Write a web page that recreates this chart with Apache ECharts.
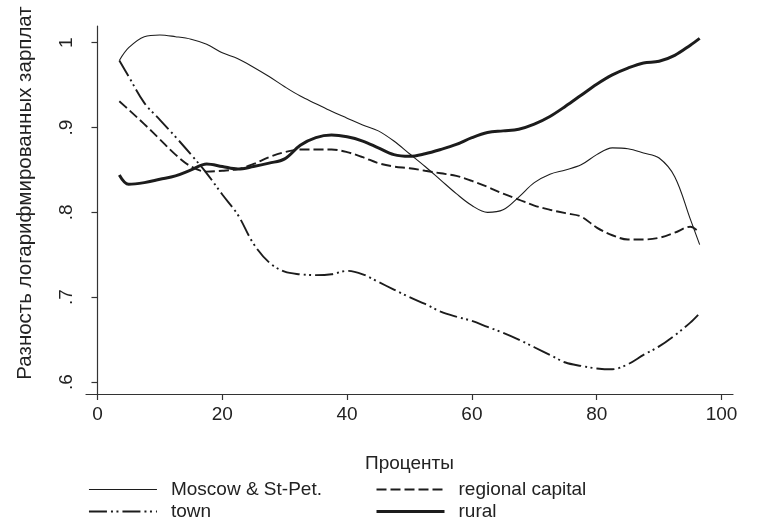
<!DOCTYPE html>
<html>
<head>
<meta charset="utf-8">
<script src="https://cdn.jsdelivr.net/npm/echarts@6/dist/echarts.min.js"></script>
<style>
  html, body { margin: 0; padding: 0; background: #fff; }
  #chart { width: 757px; height: 529px; }
</style>
</head>
<body>
<div id="chart"></div>
<script>
// Percentile grid shared by all four curves
var percentiles = [3.5, 5, 7.5, 10, 12.5, 15, 17.5, 20, 22.5, 25, 27.5, 30, 32.5, 35, 37.5, 40,
  42.5, 45, 47.5, 50, 52.5, 55, 57.5, 60, 62.5, 65, 67.5, 70, 72.5, 75, 77.5, 80,
  82.5, 85, 87.5, 90, 92.5, 95, 96.5];

// Log-wage differences by settlement type
var moscowSpb = [0.979, 0.994, 1.007, 1.009, 1.007, 1.004, 0.998, 0.988, 0.981, 0.971, 0.960, 0.948,
  0.937, 0.928, 0.919, 0.911, 0.903, 0.896, 0.884, 0.869, 0.854, 0.838, 0.822, 0.808, 0.800,
  0.803, 0.818, 0.835, 0.845, 0.850, 0.856, 0.868, 0.876, 0.875, 0.870, 0.864, 0.842, 0.792, 0.762];

var regionalCapital = [0.931, 0.921, 0.904, 0.886, 0.868, 0.854, 0.848, 0.849, 0.851, 0.857, 0.865,
  0.871, 0.874, 0.874, 0.874, 0.871, 0.865, 0.858, 0.854, 0.852, 0.849, 0.846, 0.843, 0.837,
  0.830, 0.822, 0.815, 0.808, 0.803, 0.799, 0.795, 0.782, 0.773, 0.768, 0.768, 0.770, 0.776,
  0.783, 0.776];

var town = [0.979, 0.960, 0.929, 0.909, 0.889, 0.868, 0.846, 0.821, 0.797, 0.763, 0.741, 0.730,
  0.727, 0.726, 0.727, 0.731, 0.727, 0.718, 0.709, 0.700, 0.692, 0.683, 0.677, 0.672, 0.665,
  0.658, 0.650, 0.641, 0.632, 0.623, 0.619, 0.616, 0.615, 0.621, 0.632, 0.642, 0.655, 0.670, 0.681];

var rural = [0.844, 0.833, 0.835, 0.839, 0.843, 0.850, 0.857, 0.854, 0.851, 0.854, 0.858, 0.863,
  0.879, 0.888, 0.891, 0.889, 0.884, 0.876, 0.868, 0.866, 0.869, 0.874, 0.880, 0.888, 0.894,
  0.896, 0.898, 0.904, 0.913, 0.925, 0.938, 0.951, 0.962, 0.970, 0.976, 0.978, 0.985, 0.997, 1.005];

var xTicks = [0, 20, 40, 60, 80, 100];
var yTicks = [0.6, 0.7, 0.8, 0.9, 1];

var INK = '#1c1c1c';
var TEXT = '#222';
var FONT = '"Liberation Sans", Arial, Helvetica, sans-serif';

function pairs(values) {
  return percentiles.map(function (p, i) { return [p, values[i]]; });
}

function curve(name, values, width, type) {
  return {
    name: name,
    type: 'line',
    data: pairs(values),
    symbol: 'none',
    showSymbol: false,
    smooth: 0.35,
    lineStyle: { color: INK, width: width, type: type, cap: 'butt' },
    itemStyle: { color: INK },
    emphasis: { disabled: true }
  };
}

// Legend keys show the line pattern only, no marker
var legendBase = {
  orient: 'vertical',
  top: 480,
  padding: 0,
  itemWidth: 68,
  itemHeight: 12,
  itemGap: 3,
  selectedMode: false,
  itemStyle: { opacity: 0, borderWidth: 0 },
  lineStyle: { width: 'inherit' },
  textStyle: { fontSize: 19, color: TEXT, fontFamily: FONT, padding: [0, 0, 0, 9] }
};

var chart = echarts.init(document.getElementById('chart'), null, { renderer: 'canvas' });

chart.setOption({
  animation: false,
  backgroundColor: '#fff',
  grid: { left: 86, right: 24, top: 26, bottom: 135, containLabel: false },
  xAxis: {
    type: 'value',
    min: -1.84,
    max: 101.84,
    name: 'Проценты',
    nameLocation: 'middle',
    nameGap: 60,
    nameTextStyle: { fontSize: 19, color: TEXT, fontFamily: FONT },
    axisLine: { show: true, lineStyle: { color: '#333', width: 1.2 } },
    axisTick: { show: true, length: 6, lineStyle: { color: '#333', width: 1.2 }, customValues: xTicks },
    axisLabel: { fontSize: 19, color: TEXT, fontFamily: FONT, margin: 11, customValues: xTicks },
    splitLine: { show: false }
  },
  yAxis: {
    type: 'value',
    min: 0.5859,
    max: 1.0196,
    axisLine: { show: true, lineStyle: { color: '#333', width: 1.2 } },
    axisTick: { show: true, length: 6, lineStyle: { color: '#333', width: 1.2 }, customValues: yTicks },
    axisLabel: {
      fontSize: 19, color: TEXT, fontFamily: FONT, margin: 10, rotate: 90,
      customValues: yTicks,
      formatter: function (v) {
        var s = (Math.round(v * 10) / 10).toString();
        return s.replace(/^0\./, '.');
      }
    },
    splitLine: { show: false }
  },
  legend: [
    Object.assign({}, legendBase, { left: 88, data: ['Moscow & St-Pet.', 'town'] }),
    Object.assign({}, legendBase, { left: 375, data: ['regional capital', 'rural'] })
  ],
  graphic: [{
    type: 'text',
    x: 25,
    y: 193,
    rotation: Math.PI / 2,
    style: {
      text: 'Разность логарифмированных зарплат',
      fontSize: 20.5,
      fontFamily: FONT,
      fill: TEXT,
      align: 'center',
      verticalAlign: 'middle'
    }
  }],
  series: [
    curve('Moscow & St-Pet.', moscowSpb, 1.1, 'solid'),
    curve('regional capital', regionalCapital, 1.9, [10, 4]),
    curve('town', town, 1.9, [18, 4, 2, 3.5, 2, 4]),
    curve('rural', rural, 3, 'solid')
  ]
});
</script>
</body>
</html>
